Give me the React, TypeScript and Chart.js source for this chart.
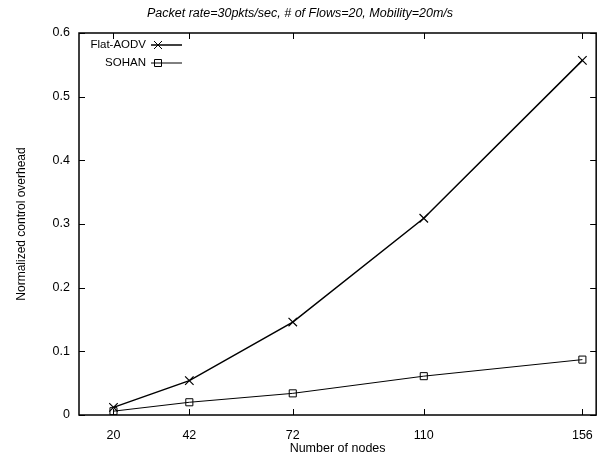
import React, { useEffect, useRef } from "react";
import { Chart, registerables } from "chart.js";

Chart.register(...registerables);

const nodes = [20, 42, 72, 110, 156];
const flatAodv = [0.012, 0.054, 0.146, 0.309, 0.557];
const sohan = [0.006, 0.02, 0.034, 0.061, 0.087];
const yTicks = [0, 0.1, 0.2, 0.3, 0.4, 0.5, 0.6];
const seriesLabels = ["Flat-AODV", "SOHAN"];
const titleText = "Packet rate=30pkts/sec, # of Flows=20, Mobility=20m/s";
const xTitle = "Number of nodes";
const yTitle = "Normalized control overhead";

const FONT = "'Liberation Sans', Arial, Helvetica, sans-serif";

const framePlugin = {
  id: "gnuFrame",
  afterDraw(chart: any) {
    const { ctx, chartArea, scales } = chart;
    const { left, right, top, bottom } = chartArea;
    ctx.save();
    ctx.strokeStyle = "#000";
    ctx.lineWidth = 1.5;
    ctx.strokeRect(left, top, right - left, bottom - top);
    ctx.lineWidth = 1;
    const tl = 6;
    ctx.beginPath();
    scales.x.ticks.forEach((t: any) => {
      const px = Math.round(scales.x.getPixelForValue(t.value)) + 0.5;
      ctx.moveTo(px, bottom);
      ctx.lineTo(px, bottom - tl);
      ctx.moveTo(px, top);
      ctx.lineTo(px, top + tl);
    });
    scales.y.ticks.forEach((t: any) => {
      const py = Math.round(scales.y.getPixelForValue(t.value)) + 0.5;
      ctx.moveTo(left, py);
      ctx.lineTo(left + tl, py);
      ctx.moveTo(right, py);
      ctx.lineTo(right - tl, py);
    });
    ctx.stroke();

    // gnuplot-style legend: text right-aligned, then sample line with marker
    ctx.font = `11.5px ${FONT}`;
    ctx.fillStyle = "#000";
    ctx.textAlign = "right";
    ctx.textBaseline = "middle";
    chart.data.datasets.forEach((ds: any, i: number) => {
      const y = top + 12 + i * 18;
      const textRight = left + 67;
      ctx.fillText(ds.label, textRight, y);
      const x0 = textRight + 5;
      const x1 = textRight + 36;
      ctx.beginPath();
      ctx.lineWidth = ds.borderWidth;
      ctx.moveTo(x0, y);
      ctx.lineTo(x1, y);
      ctx.stroke();
      const mx = textRight + 12;
      ctx.lineWidth = 1;
      ctx.beginPath();
      if (ds.pointStyle === "crossRot") {
        const r = 4;
        ctx.moveTo(mx - r, y - r);
        ctx.lineTo(mx + r, y + r);
        ctx.moveTo(mx - r, y + r);
        ctx.lineTo(mx + r, y - r);
      } else {
        const h = 3.5;
        ctx.rect(mx - h, y - h, 2 * h, 2 * h);
      }
      ctx.stroke();
    });
    ctx.restore();
  },
};

export default function App() {
  const ref = useRef<HTMLCanvasElement | null>(null);

  useEffect(() => {
    document.body.style.margin = "0";
    const canvas = ref.current;
    if (!canvas) return;
    const chart = new Chart(canvas, {
      type: "line",
      data: {
        datasets: [
          {
            label: seriesLabels[0],
            data: nodes.map((x, i) => ({ x, y: flatAodv[i] })),
            borderColor: "#000",
            backgroundColor: "#000",
            borderWidth: 1.5,
            pointStyle: "crossRot",
            pointRadius: 6,
            pointBorderWidth: 1.2,
            pointBorderColor: "#000",
            tension: 0,
            fill: false,
          },
          {
            label: seriesLabels[1],
            data: nodes.map((x, i) => ({ x, y: sohan[i] })),
            borderColor: "#000",
            backgroundColor: "rgba(0,0,0,0)",
            borderWidth: 1,
            pointStyle: "rect",
            pointRadius: 5,
            pointBorderWidth: 1,
            pointBorderColor: "#000",
            pointBackgroundColor: "rgba(255,255,255,0)",
            tension: 0,
            fill: false,
          },
        ],
      },
      options: {
        animation: false,
        responsive: false,
        devicePixelRatio: 1,
        layout: { padding: { left: 0, right: 6, top: 0, bottom: 0 } },
        plugins: {
          legend: { display: false },
          tooltip: { enabled: false },
          title: {
            display: true,
            text: titleText,
            color: "#000",
            font: { family: FONT, size: 12.5, style: "italic", weight: "normal" },
            padding: { top: 6, bottom: 12 },
          },
        },
        scales: {
          x: {
            type: "linear",
            min: 10,
            max: 160,
            afterBuildTicks: (s: any) => {
              s.ticks = nodes.map((v) => ({ value: v }));
            },
            afterFit: (s: any) => {
              s.height = 41;
            },
            ticks: {
              color: "#000",
              font: { family: FONT, size: 12.5 },
              padding: 13,
              maxRotation: 0,
              autoSkip: false,
              callback: (v: any) => String(v),
            },
            grid: { display: false, drawTicks: false },
            border: { display: false },
            title: {
              display: true,
              text: xTitle,
              color: "#000",
              font: { family: FONT, size: 12.5 },
              padding: { top: 0, bottom: 0 },
            },
          },
          y: {
            type: "linear",
            min: 0,
            max: 0.6,
            afterBuildTicks: (s: any) => {
              s.ticks = yTicks.map((v) => ({ value: v }));
            },
            afterFit: (s: any) => {
              s.width = 79;
            },
            ticks: {
              color: "#000",
              font: { family: FONT, size: 12.5 },
              padding: 9,
              callback: (v: any) => String(v),
            },
            grid: { display: false, drawTicks: false },
            border: { display: false },
            title: {
              display: true,
              text: yTitle,
              color: "#000",
              font: { family: FONT, size: 12 },
              padding: { top: 14, bottom: 0 },
            },
          },
        },
      },
      plugins: [framePlugin],
    } as any);
    return () => chart.destroy();
  }, []);

  return <canvas ref={ref} width={606} height={456} style={{ display: "block" }} />;
}
